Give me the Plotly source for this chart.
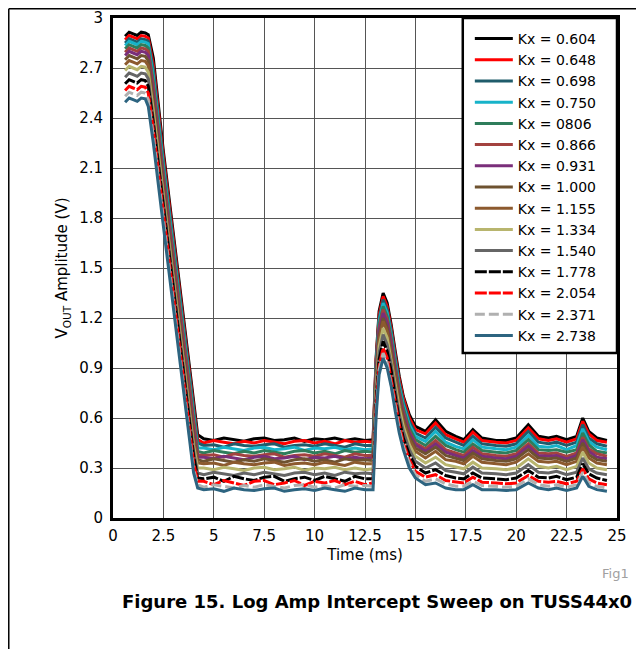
import plotly.graph_objects as go

# time axis in ms, shared by every Kx sweep
time_ms = [0.6, 0.8, 1.0, 1.2, 1.4, 1.6, 1.75,
           2.0, 2.5, 3.0, 3.5, 4.0, 4.2,
           4.5, 5.0, 5.5, 6.0, 6.5, 7.0, 7.5, 8.0, 8.5, 9.0, 9.5, 10.0, 10.5, 11.0, 11.5, 12.0, 12.5,
           12.9, 13.05, 13.2, 13.4, 13.6, 13.8, 14.0, 14.2, 14.4, 14.7, 15.0,
           15.5, 16.0, 16.5, 17.0, 17.4, 17.85, 18.3, 19.0, 19.5, 20.0, 20.6, 21.1, 21.6, 22.0, 22.5,
           23.0, 23.3, 23.6, 24.0, 24.5]

# VOUT amplitude (V) for each Kx setting
kx_0604 = [2.89, 2.915, 2.905, 2.895, 2.915, 2.91, 2.90,
           2.76, 2.20, 1.70, 1.20, 0.70, 0.50,
           .475, .465, .48, .47, .46, .475, .48, .465, .47, .48, .46, .475, .47, .48, .465, .475, .465,
           .47, .96, 1.24, 1.35, 1.29, 1.16, 1.00, .85, .73, .62, .55,
           .52, .59, .52, .49, .47, .53, .48, .465, .465, .48, .56, .49, .48, .49, .47, .49, .60, .52, .48, .465]
kx_0648 = [2.87, 2.895, 2.885, 2.875, 2.895, 2.89, 2.88,
           2.72, 2.17, 1.67, 1.17, 0.67, 0.47,
           .45, .465, .455, .445, .46, .45, .465, .455, .445, .46, .465, .45, .46, .445, .465, .455, .46,
           .455, .945, 1.22, 1.33, 1.27, 1.14, .98, .83, .72, .60, .53,
           .505, .57, .50, .475, .455, .515, .465, .455, .45, .465, .54, .475, .465, .475, .455, .475, .58, .505, .465, .455]
kx_0698 = [2.85, 2.875, 2.865, 2.855, 2.875, 2.87, 2.86,
           2.69, 2.14, 1.64, 1.14, 0.64, 0.45,
           .435, .44, .425, .445, .435, .43, .44, .445, .425, .435, .44, .43, .445, .435, .425, .445, .435,
           .435, .925, 1.20, 1.31, 1.25, 1.12, .96, .81, .70, .58, .51,
           .48, .545, .48, .455, .435, .49, .445, .435, .43, .445, .52, .455, .445, .455, .435, .455, .56, .48, .445, .43]
kx_0750 = [2.835, 2.86, 2.85, 2.84, 2.86, 2.855, 2.845,
           2.65, 2.11, 1.61, 1.11, 0.61, 0.42,
           .42, .41, .425, .415, .405, .42, .425, .41, .415, .425, .405, .42, .415, .425, .41, .42, .41,
           .415, .905, 1.18, 1.29, 1.23, 1.10, .94, .79, .68, .56, .49,
           .46, .52, .455, .43, .415, .47, .425, .415, .41, .425, .495, .43, .425, .435, .41, .435, .535, .46, .425, .41]
kx_0806 = [2.815, 2.84, 2.83, 2.82, 2.84, 2.835, 2.82,
           2.62, 2.08, 1.58, 1.08, 0.58, 0.40,
           .39, .405, .395, .385, .40, .39, .405, .395, .385, .40, .405, .39, .40, .385, .405, .395, .40,
           .395, .885, 1.16, 1.27, 1.21, 1.08, .92, .77, .66, .54, .47,
           .435, .49, .435, .41, .395, .445, .405, .395, .39, .405, .47, .41, .405, .41, .395, .41, .51, .44, .40, .39]
kx_0866 = [2.795, 2.82, 2.81, 2.80, 2.82, 2.815, 2.80,
           2.59, 2.05, 1.55, 1.05, 0.55, 0.38,
           .375, .38, .365, .385, .375, .37, .38, .385, .365, .375, .38, .37, .385, .375, .365, .385, .375,
           .375, .865, 1.14, 1.25, 1.19, 1.06, .90, .75, .64, .52, .45,
           .415, .465, .41, .39, .375, .425, .385, .375, .37, .385, .445, .39, .385, .39, .37, .39, .485, .415, .385, .37]
kx_0931 = [2.775, 2.80, 2.79, 2.78, 2.80, 2.795, 2.775,
           2.55, 2.02, 1.52, 1.02, 0.52, 0.365,
           .365, .355, .37, .36, .35, .365, .37, .355, .36, .37, .35, .365, .36, .37, .355, .365, .355,
           .36, .85, 1.12, 1.23, 1.17, 1.04, .88, .73, .62, .51, .44,
           .40, .445, .395, .375, .36, .405, .37, .36, .355, .37, .43, .375, .37, .375, .355, .375, .47, .40, .365, .355]
kx_1000 = [2.75, 2.775, 2.765, 2.755, 2.775, 2.77, 2.745,
           2.51, 1.99, 1.49, 0.99, 0.49, 0.35,
           .34, .355, .345, .335, .35, .34, .355, .345, .335, .35, .355, .34, .35, .335, .355, .345, .35,
           .345, .825, 1.09, 1.20, 1.14, 1.01, .86, .71, .60, .49, .42,
           .385, .425, .375, .36, .345, .39, .355, .345, .34, .355, .41, .36, .355, .36, .34, .36, .45, .38, .35, .34]
kx_1155 = [2.72, 2.745, 2.735, 2.725, 2.745, 2.74, 2.715,
           2.47, 1.96, 1.46, 0.96, 0.46, 0.33,
           .325, .33, .315, .335, .325, .32, .33, .335, .315, .325, .33, .32, .335, .325, .315, .335, .325,
           .325, .80, 1.07, 1.18, 1.12, .99, .84, .69, .58, .47, .40,
           .36, .40, .35, .34, .325, .37, .335, .325, .32, .335, .385, .34, .335, .34, .32, .34, .425, .36, .33, .32]
kx_1334 = [2.685, 2.71, 2.70, 2.69, 2.71, 2.705, 2.675,
           2.44, 1.93, 1.43, 0.93, 0.43, 0.30,
           .30, .29, .305, .295, .285, .30, .305, .29, .295, .305, .285, .30, .295, .305, .29, .30, .29,
           .295, .77, 1.03, 1.14, 1.08, .95, .80, .66, .55, .44, .37,
           .33, .365, .32, .305, .295, .335, .30, .295, .29, .30, .355, .31, .30, .31, .29, .31, .395, .33, .30, .29]
kx_1540 = [2.645, 2.67, 2.66, 2.65, 2.67, 2.665, 2.635,
           2.40, 1.90, 1.40, 0.90, 0.40, 0.27,
           .26, .275, .265, .255, .27, .26, .275, .265, .255, .27, .275, .26, .27, .255, .275, .265, .27,
           .265, .73, .99, 1.10, 1.04, .92, .77, .62, .52, .41, .34,
           .30, .33, .285, .275, .265, .305, .27, .265, .26, .27, .32, .275, .27, .28, .26, .275, .36, .295, .27, .26]
kx_1778 = [2.605, 2.63, 2.62, 2.61, 2.63, 2.625, 2.59,
           2.37, 1.87, 1.37, 0.87, 0.37, 0.24,
           .235, .245, .22, .25, .235, .225, .245, .25, .22, .235, .245, .225, .25, .235, .22, .25, .235,
           .235, .70, .95, 1.06, 1.00, .88, .73, .59, .48, .38, .31,
           .27, .29, .255, .24, .235, .27, .24, .235, .23, .24, .285, .245, .24, .25, .23, .245, .325, .265, .24, .225]
kx_2054 = [2.565, 2.59, 2.58, 2.57, 2.59, 2.585, 2.55,
           2.33, 1.83, 1.33, 0.83, 0.33, 0.22,
           .22, .20, .225, .21, .195, .22, .225, .20, .21, .225, .195, .22, .21, .225, .20, .22, .20,
           .21, .66, .91, 1.02, .96, .84, .70, .56, .45, .35, .28,
           .245, .26, .225, .215, .21, .245, .215, .21, .205, .21, .255, .22, .215, .22, .205, .22, .295, .235, .21, .20]
kx_2371 = [2.53, 2.555, 2.545, 2.535, 2.555, 2.55, 2.51,
           2.29, 1.79, 1.29, 0.79, 0.29, 0.20,
           .185, .20, .19, .18, .195, .185, .20, .19, .18, .195, .20, .185, .195, .18, .20, .19, .195,
           .19, .64, .89, .99, .93, .81, .67, .53, .43, .33, .26,
           .22, .235, .205, .19, .19, .22, .195, .19, .185, .19, .235, .20, .19, .20, .185, .20, .275, .21, .19, .18]
kx_2738 = [2.495, 2.52, 2.51, 2.50, 2.52, 2.515, 2.47,
           2.25, 1.75, 1.25, 0.75, 0.27, 0.18,
           .17, .175, .16, .18, .17, .165, .175, .18, .16, .17, .175, .165, .18, .17, .16, .18, .17,
           .17, .61, .86, .96, .90, .79, .64, .51, .41, .30, .24,
           .20, .21, .18, .17, .17, .20, .17, .17, .165, .17, .21, .18, .17, .18, .165, .18, .25, .19, .17, .16]

series_names = ["Kx = 0.604", "Kx = 0.648", "Kx = 0.698", "Kx = 0.750", "Kx = 0806",
                "Kx = 0.866", "Kx = 0.931", "Kx = 1.000", "Kx = 1.155", "Kx = 1.334",
                "Kx = 1.540", "Kx = 1.778", "Kx = 2.054", "Kx = 2.371", "Kx = 2.738"]
series_values = [kx_0604, kx_0648, kx_0698, kx_0750, kx_0806, kx_0866, kx_0931, kx_1000,
                 kx_1155, kx_1334, kx_1540, kx_1778, kx_2054, kx_2371, kx_2738]

x_ticks = [0, 2.5, 5, 7.5, 10, 12.5, 15, 17.5, 20, 22.5, 25]
y_ticks = [0, 0.3, 0.6, 0.9, 1.2, 1.5, 1.8, 2.1, 2.4, 2.7, 3]

colors = ["#000000", "#ff0000", "#1f5c6b", "#17b3c9", "#2e7d5b", "#a3423f", "#7a2e7a", "#6e5230",
          "#8c5a2e", "#b8b56e", "#666666", "#000000", "#ff0000", "#b0b0b0", "#2d6480"]
dashes = ["solid"] * 11 + ["12px,2px", "12px,2px", "10px,4px", "solid"]

FONT = "DejaVu Sans"

fig = go.Figure()
for name, vals, col, dash in zip(series_names, series_values, colors, dashes):
    assert len(vals) == len(time_ms), name
    fig.add_scatter(x=time_ms, y=vals, name=name, mode="lines",
                    line=dict(color=col, width=3, dash=dash))

axis_style = dict(showgrid=True, gridcolor="#555555", gridwidth=1, automargin=False,
                  showline=True, linecolor="black", linewidth=3, mirror=True,
                  zeroline=False, ticks="", tickfont=dict(family=FONT, size=15, color="black"))

fig.update_xaxes(range=[0, 25], tickvals=x_ticks, ticklabelstandoff=2,
                 title=dict(text="Time (ms)", font=dict(family=FONT, size=15, color="black"), standoff=6),
                 **axis_style)
fig.update_yaxes(range=[0, 3], tickvals=y_ticks, ticklabelstandoff=4,
                 title=dict(text="V<sub>OUT</sub> Amplitude (V)",
                            font=dict(family=FONT, size=15, color="black"), standoff=8),
                 **axis_style)

# the page body adds an 8px offset, so the figure is 8px smaller than the window
fig.update_layout(
    width=636, height=641,
    margin=dict(l=105, r=27, t=10, b=131),
    paper_bgcolor="white", plot_bgcolor="white",
    font=dict(family=FONT, size=15, color="black"),
    legend=dict(x=0.708, y=0.99, xanchor="left", yanchor="top", itemwidth=38,
                bgcolor="rgba(0,0,0,0)", borderwidth=0,
                font=dict(family=FONT, size=14, color="black")),
    showlegend=True,
)

# legend frame and the page frame lines
fig.add_shape(type="rect", xref="paper", yref="paper", x0=0.694, x1=1.0, y0=0.33, y1=1.0,
              line=dict(color="black", width=2.5), fillcolor="white", layer="above")
fig.add_shape(type="line", xref="paper", yref="paper", x0=-0.2068, x1=-0.2068, y0=-0.3, y1=1.0185,
              line=dict(color="black", width=1.5))
fig.add_shape(type="line", xref="paper", yref="paper", x0=-0.2068, x1=1.1, y0=1.0185, y1=1.0185,
              line=dict(color="black", width=1.5))

fig.add_annotation(text="<b>Figure 15. Log Amp Intercept Sweep on TUSS44x0</b>", xref="paper", yref="paper",
                   x=0.524, y=-0.166, xanchor="center", yanchor="middle", showarrow=False,
                   font=dict(family=FONT, size=18, color="black"))
fig.add_annotation(text="Fig1", xref="paper", yref="paper", x=0.966, y=-0.11, xanchor="left",
                   yanchor="middle", showarrow=False, font=dict(family=FONT, size=13, color="#a0a0a0"))

fig.write_html("out.html")
